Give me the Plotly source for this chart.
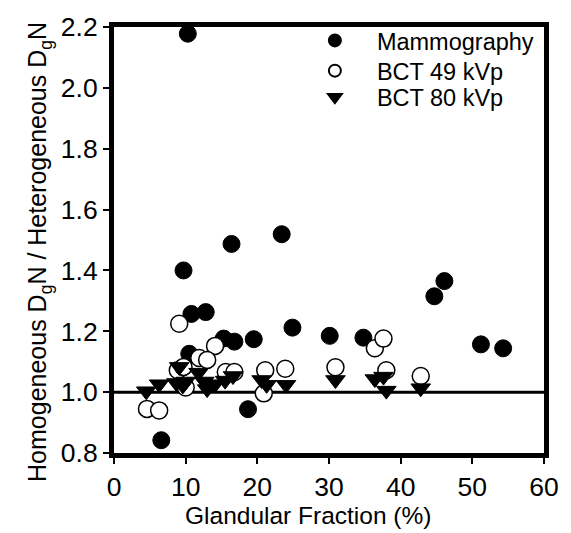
import plotly.graph_objects as go

# Mammography (filled circles)
mammo_x = [10.3, 9.7, 16.4, 23.4, 10.8, 12.8, 15.3, 16.8, 19.5, 10.5, 24.9, 30.1, 34.8, 44.7, 46.1, 51.2, 54.3, 18.7, 6.6]
mammo_y = [2.178, 1.40, 1.487, 1.519, 1.257, 1.263, 1.176, 1.166, 1.174, 1.126, 1.212, 1.185, 1.179, 1.315, 1.365, 1.157, 1.144, 0.944, 0.842]

# BCT 49 kVp (open circles)
bct49_x = [9.1, 14.1, 11.9, 13.0, 8.9, 9.7, 10.0, 15.6, 16.8, 21.1, 20.9, 23.9, 30.9, 36.4, 37.6, 38.0, 42.8, 4.6, 6.3]
bct49_y = [1.225, 1.152, 1.112, 1.106, 1.072, 1.083, 1.015, 1.066, 1.066, 1.072, 0.996, 1.077, 1.082, 1.144, 1.176, 1.072, 1.053, 0.945, 0.940]

# BCT 80 kVp (down triangles)
bct80_x = [4.5, 6.3, 8.7, 9.1, 10.0, 9.6, 11.8, 12.6, 13.0, 14.1, 15.5, 16.6, 20.6, 21.3, 24.0, 30.9, 36.4, 37.6, 38.0, 42.8]
bct80_y = [1.003, 1.026, 1.030, 1.083, 1.035, 1.022, 1.064, 1.035, 1.010, 1.026, 1.038, 1.053, 1.040, 1.024, 1.024, 1.040, 1.043, 1.051, 1.005, 1.013]

REF_LINE = 1.0
x_ticks = [0, 10, 20, 30, 40, 50, 60]
y_ticks = [0.8, 1.0, 1.2, 1.4, 1.6, 1.8, 2.0, 2.2]
x_title = "Glandular Fraction (%)"
y_title = "Homogeneous D<sub>g</sub>N / Heterogeneous D<sub>g</sub>N"

FONT = "Liberation Sans, Arial, sans-serif"

fig = go.Figure()
fig.add_trace(go.Scatter(
    x=mammo_x, y=mammo_y, mode="markers", name="Mammography", legend="legend",
    marker=dict(symbol="circle", size=17, color="black", line=dict(color="black", width=1)),
))
fig.add_trace(go.Scatter(
    x=bct49_x, y=bct49_y, mode="markers", name="BCT 49 kVp", legend="legend2",
    marker=dict(symbol="circle", size=17, color="white", line=dict(color="black", width=1.5)),
))
fig.add_trace(go.Scatter(
    x=bct80_x, y=bct80_y, mode="markers", name="BCT 80 kVp", legend="legend3",
    marker=dict(symbol="triangle-down", size=17, color="black", line=dict(color="black", width=1)),
))

fig.add_hline(y=REF_LINE, line=dict(color="black", width=3), layer="below")

leg_common = dict(
    xanchor="left", yanchor="middle",
    bgcolor="rgba(0,0,0,0)", borderwidth=0,
    font=dict(size=23.5, family=FONT),
    itemsizing="constant", itemwidth=74,
)
LX = 0.416

# axis titles as annotations (they are offset from the plot centre in the reference)
fig.add_annotation(text=x_title, xref="paper", yref="paper",
                   x=(311 - 114) / 437, y=-(516.7 - 453) / 436,
                   xanchor="center", yanchor="middle", showarrow=False,
                   font=dict(size=24.5, family=FONT, color="black"))
fig.add_annotation(text=y_title, xref="paper", yref="paper", textangle=-90,
                   x=-(114 - 38) / 437, y=(453 - 247) / 436,
                   xanchor="center", yanchor="middle", showarrow=False,
                   font=dict(size=25, family=FONT, color="black"))

fig.update_layout(
    width=571, height=533,
    margin=dict(l=114, r=20, t=17, b=80),
    paper_bgcolor="white", plot_bgcolor="white",
    font=dict(family=FONT, color="black", size=22),
    showlegend=True,
    legend=dict(x=LX, y=0.968, **leg_common),
    legend2=dict(x=LX, y=0.897, **leg_common),
    legend3=dict(x=LX, y=0.835, **leg_common),
    xaxis=dict(
        range=[0, 60], tickvals=x_ticks, ticktext=[str(v) for v in x_ticks],
        showgrid=False, zeroline=False,
        showline=True, linecolor="black", linewidth=5, mirror=True,
        ticks="outside", ticklen=6, tickwidth=1.5, tickcolor="black",
        tickfont=dict(size=26.5, family=FONT), ticklabeloverflow="allow",
    ),
    yaxis=dict(
        range=[0.8, 2.2], tickvals=y_ticks, ticktext=[f"{v:.1f}" for v in y_ticks],
        showgrid=False, zeroline=False,
        showline=True, linecolor="black", linewidth=5, mirror=True,
        ticks="outside", ticklen=6, tickwidth=1.5, tickcolor="black",
        tickfont=dict(size=26.5, family=FONT), ticklabeloverflow="allow",
    ),
)

fig.write_html("out.html", config={"displayModeBar": False},
               post_script="document.body.style.margin='0px';")
